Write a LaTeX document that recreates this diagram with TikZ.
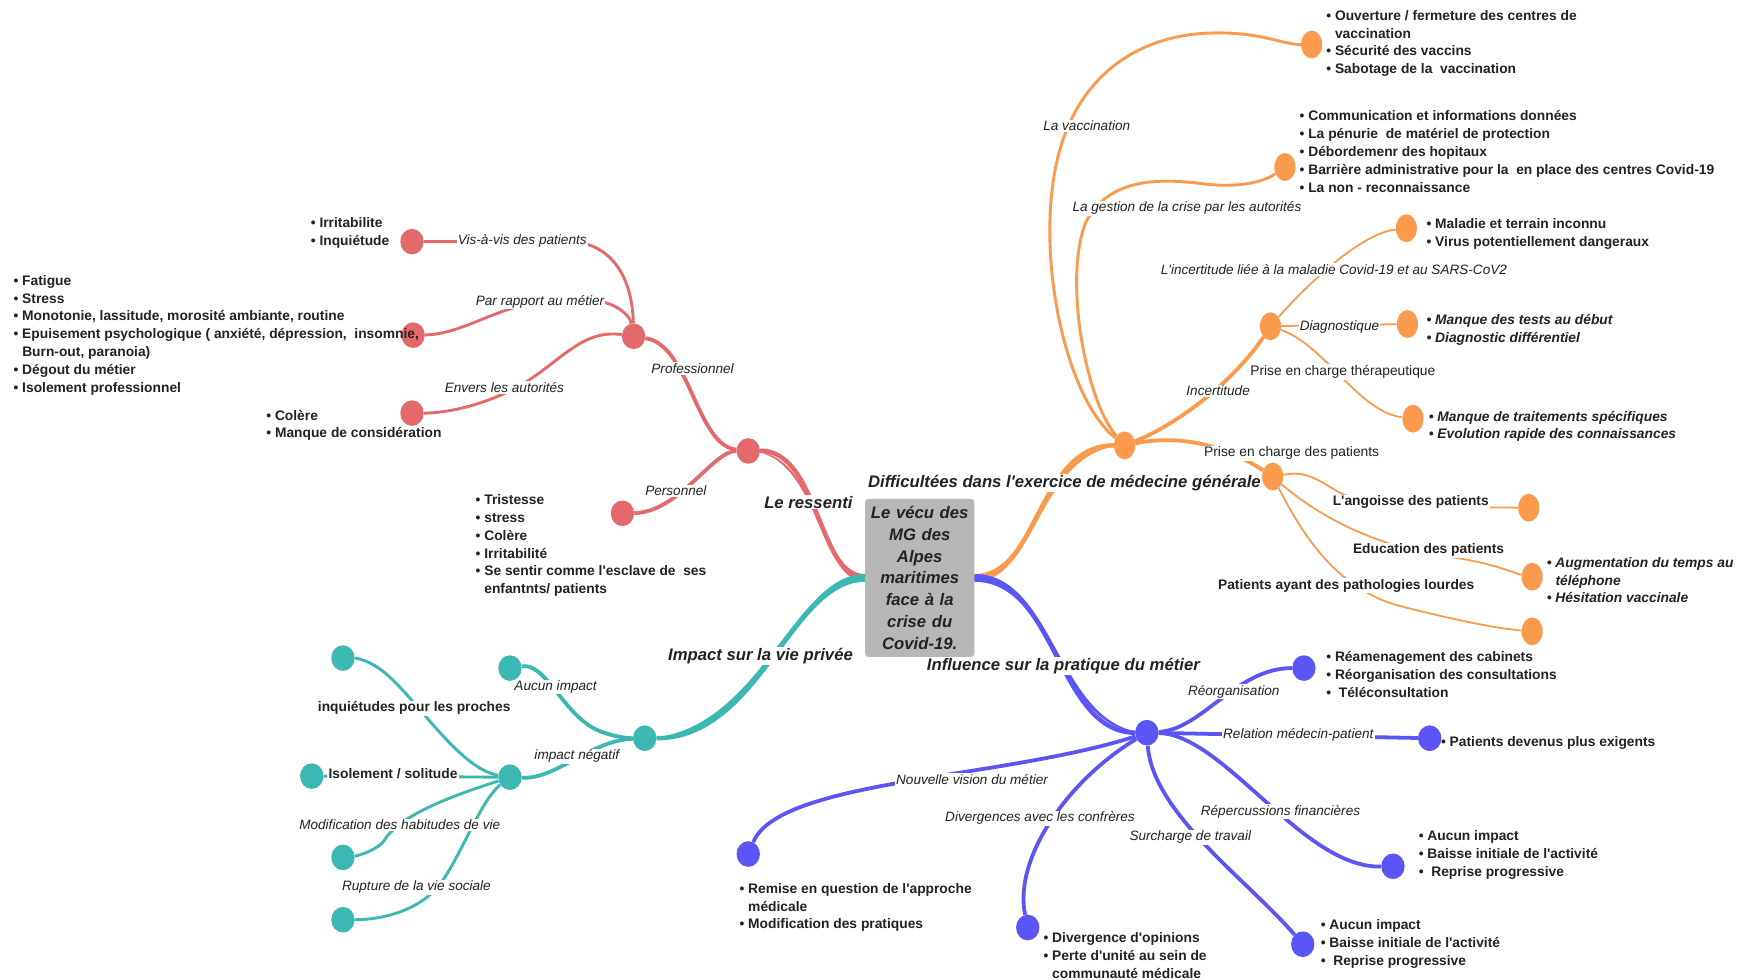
\documentclass[tikz,border=0pt]{standalone}
\usepackage{fontspec}
\setmainfont{Liberation Sans}[Ligatures=TeXOff]
\usetikzlibrary{shapes.geometric}
\definecolor{cred}{HTML}{E4696B}
\definecolor{corg}{HTML}{F99A4C}
\definecolor{cteal}{HTML}{3BB8B3}
\definecolor{cblue}{HTML}{5B55F5}
\definecolor{cbox}{HTML}{B7B7B7}
\definecolor{ctxt}{HTML}{222222}
\newcommand{\cont}{\hphantom{• }}
\begin{document}
\begin{tikzpicture}[x=1pt,y=-1pt,
 dot/.style={ellipse, minimum width=21pt, minimum height=23pt, inner sep=0pt, fill=#1},
 odot/.style={ellipse, minimum width=19pt, minimum height=25pt, inner sep=0pt, fill=corg},
 box/.style={rounded corners=3pt, fill=cbox, minimum width=98pt, minimum height=142pt, text width=94pt, align=center, inner sep=0pt, text=ctxt, font=\fontsize{15}{19.5}\selectfont\bfseries\itshape},
 lst/.style={align=left, anchor=west, inner sep=0pt, text=ctxt, font=\fontsize{12.4}{16}\selectfont\bfseries},
 ilst/.style={align=left, anchor=west, inner sep=0pt, text=ctxt, font=\fontsize{12.4}{16}\selectfont\bfseries\itshape},
 lbl/.style={fill=white, inner sep=1pt, text=ctxt, font=\fontsize{12.2}{14}\selectfont\itshape},
 rlbl/.style={fill=white, inner sep=1pt, text=ctxt, font=\fontsize{12.4}{14}\selectfont},
 ulbl/.style={fill=white, inner sep=1pt, text=ctxt, font=\fontsize{12.4}{14}\selectfont\bfseries},
 mlbl/.style={fill=white, inner sep=1pt, text=ctxt, font=\fontsize{15}{17}\selectfont\bfseries\itshape},
 sub/.style={line width=3.4pt},
 leaf/.style={line width=2.6pt},
 fine/.style={line width=1.6pt},
]
\useasboundingbox (0,0) rectangle (1560,880);
\fill[white] (0,0) rectangle (1560,880);

% centre
\node[box] (ctr) at (826,519) {Le vécu des\\MG des\\Alpes\\maritimes\\face à la\\crise du\\Covid-19.};

% dots red
\node[dot=cred] (R) at (672,405) {};
\node[dot=cred] (Rp) at (569,302) {};
\node[dot=cred] (Rpe) at (559,461) {};
\node[dot=cred] (Rv) at (370,217) {};
\node[dot=cred] (Rm) at (371,301) {};
\node[dot=cred] (Ra) at (370,371) {};
% dots teal
\node[dot=cteal] (T) at (579,663) {};
\node[dot=cteal] (Ta) at (458,600) {};
\node[dot=cteal] (Tn) at (458,698) {};
\node[dot=cteal] (Ti) at (308,591) {};
\node[dot=cteal] (Ts) at (280,697) {};
\node[dot=cteal] (Th) at (308,770) {};
\node[dot=cteal] (Tr) at (308,826) {};
% dots orange
\node[odot] (O) at (1010,400) {};
\node[odot] (Ov) at (1178,40) {};
\node[odot] (Og) at (1154,150) {};
\node[odot] (Oi) at (1141,293) {};
\node[odot] (Om) at (1263,205) {};
\node[odot] (Od) at (1264,291) {};
\node[odot] (Ot) at (1269,376) {};
\node[odot] (Op) at (1143,428) {};
\node[odot] (Oa) at (1373,456) {};
\node[odot] (Oe) at (1376,518) {};
\node[odot] (Ol) at (1376,567) {};
% dots blue
\node[dot=cblue] (B) at (1030,658) {};
\node[dot=cblue] (Br) at (1171,600) {};
\node[dot=cblue] (Bm) at (1284,663) {};
\node[dot=cblue] (Bf) at (1251,778) {};
\node[dot=cblue] (Bs) at (1170,848) {};
\node[dot=cblue] (Bd) at (923,833) {};
\node[dot=cblue] (Bn) at (672,767) {};

% main branches (tapered)
\fill[cred] ([yshift=3.5pt]ctr.west) .. controls (735,515.5) and (735,402) .. (R.center) .. controls (735,406) and (735,522.5) .. ([yshift=-3.5pt]ctr.west) -- cycle;
\draw[cred, line width=4pt] (ctr.west) .. controls (735,519) and (735,404) .. (R);
\fill[cteal] ([yshift=3.5pt]ctr.west) .. controls (712,515.5) and (682,660) .. (T.center) .. controls (682,666) and (712,522.5) .. ([yshift=-3.5pt]ctr.west) -- cycle;
\draw[cteal, line width=4pt] (ctr.west) .. controls (712,519) and (682,663) .. (T);
\fill[corg] ([yshift=3.5pt]ctr.east) .. controls (932,515.5) and (932,397) .. (O.center) .. controls (932,403) and (932,522.5) .. ([yshift=-3.5pt]ctr.east) -- cycle;
\draw[corg, line width=4pt] (ctr.east) .. controls (932,519) and (932,400) .. (O);
\fill[cblue] ([yshift=3.5pt]ctr.east) .. controls (948,515.5) and (950,655) .. (B.center) .. controls (950,661) and (948,522.5) .. ([yshift=-3.5pt]ctr.east) -- cycle;
\draw[cblue, line width=4pt] (ctr.east) .. controls (948,519) and (950,658) .. (B);

% red
\draw[cred, sub] (R) .. controls (625,400) and (620,310) .. (Rp);
\draw[cred, sub] (R) .. controls (640,405) and (610,460) .. (Rpe);
\draw[cred, leaf] (Rp) .. controls (568,250) and (550,220) .. (515,217) -- (Rv);
\draw[cred, leaf] (Rm) .. controls (420,300) and (450,270) .. (510,268) .. controls (545,266) and (565,280) .. (Rp);
\draw[cred, leaf] (Rp) .. controls (520,295) and (500,330) .. (460,350) .. controls (430,365) and (400,371) .. (Ra);
% teal
\draw[cteal, sub] (Ta) .. controls (490,595) and (505,640) .. (535,655) .. controls (550,662) and (565,663) .. (T);
\draw[cteal, sub] (Tn) .. controls (500,700) and (530,665) .. (T);
\draw[cteal, leaf] (Tn) .. controls (410,690) and (370,620) .. (340,600) .. controls (330,593) and (320,591) .. (Ti);
\draw[cteal, leaf] (Tn) -- (Ts);
\draw[cteal, leaf] (Tn) .. controls (415,712) and (360,730) .. (345,755) .. controls (340,762) and (325,768) .. (Th);
\draw[cteal, leaf] (Tn) .. controls (430,720) and (410,780) .. (390,800) .. controls (370,820) and (340,826) .. (Tr);
% orange
\draw[corg, leaf] (O) .. controls (960,360) and (935,250) .. (945,170) .. controls (955,80) and (1010,35) .. (1080,30) .. controls (1130,27) and (1150,40) .. (Ov);
\draw[corg, leaf] (O) .. controls (975,360) and (955,250) .. (975,200) .. controls (995,160) and (1040,160) .. (1080,165) .. controls (1120,170) and (1140,160) .. (Og);
\draw[corg, sub] (O) .. controls (1060,380) and (1110,340) .. (Oi);
\draw[corg, sub] (O) .. controls (1060,390) and (1100,400) .. (Op);
\draw[corg, fine] (Oi) .. controls (1170,260) and (1220,210) .. (Om);
\draw[corg, fine] (Oi) -- (Od);
\draw[corg, fine] (Oi) .. controls (1190,310) and (1220,370) .. (Ot);
\draw[corg, fine] (Op) .. controls (1190,420) and (1190,450) .. (1250,455) -- (Oa);
\draw[corg, fine] (Op) .. controls (1180,460) and (1230,490) .. (1300,500) .. controls (1340,505) and (1360,515) .. (Oe);
\draw[corg, fine] (Op) .. controls (1170,480) and (1200,530) .. (1260,545) .. controls (1320,560) and (1350,565) .. (Ol);
% blue
\draw[cblue, sub] (B) .. controls (1080,655) and (1110,600) .. (Br);
\draw[cblue, sub] (B) -- (Bm);
\draw[cblue, sub] (B) .. controls (1100,660) and (1170,780) .. (Bf);
\draw[cblue, sub] (B) .. controls (1035,730) and (1120,790) .. (Bs);
\draw[cblue, sub] (B) .. controls (960,700) and (910,770) .. (Bd);
\draw[cblue, sub] (B) .. controls (900,700) and (700,700) .. (Bn);

% labels
\node[mlbl] (lRes) at (726,451) {Le ressenti};
\node[mlbl] (lImp) at (683,589) {Impact sur la vie privée};
\node[mlbl] (lDif) at (956,434) {Difficultées dans l'exercice de médecine générale};
\node[mlbl] (lInf) at (955,598) {Influence sur la pratique du métier};

\node[lbl] (lVis) at (469,216) {Vis-à-vis des patients};
\node[lbl] (lPar) at (485,271) {Par rapport au métier};
\node[lbl] (lEnv) at (453,348) {Envers les autorités};
\node[lbl] (lPro) at (622,331) {Professionnel};
\node[lbl] (lPer) at (607,441) {Personnel};

\node[lbl] (lAuc) at (499,617) {Aucun impact};
\node[lbl] (lNeg) at (518,679) {impact négatif};
\node[ulbl] (lInq) at (372,636) {inquiétudes pour les proches};
\node[ulbl] (lIso) at (353,695) {Isolement / solitude};
\node[lbl] (lMod) at (359,741) {Modification des habitudes de vie};
\node[lbl] (lRup) at (374,797) {Rupture de la vie sociale};

\node[lbl] (lVac) at (976,113) {La vaccination};
\node[lbl] (lGes) at (1066,187) {La gestion de la crise par les autorités};
\node[lbl] (lMal) at (1198,242) {L'incertitude liée à la maladie Covid-19 et au SARS-CoV2};
\node[lbl] (lDia) at (1203,294) {Diagnostique};
\node[rlbl] (lThe) at (1206,334) {Prise en charge thérapeutique};
\node[lbl] (lInc) at (1094,351) {Incertitude};
\node[rlbl] (lPri) at (1160,407) {Prise en charge des patients};
\node[ulbl] (lAng) at (1267,451) {L'angoisse des patients};
\node[ulbl] (lEdu) at (1283,494) {Education des patients};
\node[ulbl] (lPat) at (1209,526) {Patients ayant des pathologies lourdes};

\node[lbl] (lReo) at (1108,621) {Réorganisation};
\node[lbl] (lRel) at (1166,660) {Relation médecin-patient};
\node[lbl] (lRep) at (1150,729) {Répercussions financières};
\node[lbl] (lSur) at (1069,752) {Surcharge de travail};
\node[lbl] (lDiv) at (934,735) {Divergences avec les confrères};
\node[lbl] (lNou) at (873,700) {Nouvelle vision du métier};

% lists
\node[lst] (xR1) at (279,209) {• Irritabilite\\• Inquiétude};
\node[lst] (xR2) at (12,301) {• Fatigue\\• Stress\\• Monotonie, lassitude, morosité ambiante, routine\\• Epuisement psychologique ( anxiété, dépression,~ insomnie,\\\cont Burn-out, paranoia)\\• Dégout du métier\\• Isolement professionnel};
\node[lst] (xR3) at (239,382) {• Colère\\• Manque de considération};
\node[lst] (xR4) at (427,490) {• Tristesse\\• stress\\• Colère\\• Irritabilité\\• Se sentir comme l'esclave de~ ses\\\cont enfantnts/ patients};

\node[lst] (xO1) at (1191,39) {• Ouverture / fermeture des centres de\\\cont vaccination\\• Sécurité des vaccins\\• Sabotage de la~ vaccination};
\node[lst] (xO2) at (1167,136) {• Communication et informations données\\• La pénurie~ de matériel de protection\\• Débordemenr des hopitaux\\• Barrière administrative pour la~ en place des centres Covid-19\\• La non - reconnaissance};
\node[lst] (xO3) at (1281,210) {• Maladie et terrain inconnu\\• Virus potentiellement dangeraux};
\node[ilst] (xO4) at (1281,296) {• Manque des tests au début\\• Diagnostic différentiel};
\node[ilst] (xO5) at (1283,383) {• Manque de traitements spécifiques\\• Evolution rapide des connaissances};
\node[ilst] (xO6) at (1389,521) {• Augmentation du temps au\\\cont téléphone\\• Hésitation vaccinale};

\node[lst] (xB1) at (1191,606) {• Réamenagement des cabinets\\• Réorganisation des consultations\\•~ Téléconsultation};
\node[lst] (xB2) at (1294,667) {• Patients devenus plus exigents};
\node[lst] (xB3) at (1274,768) {• Aucun impact\\• Baisse initiale de l'activité\\•~ Reprise progressive};
\node[lst] (xB4) at (1186,848) {• Aucun impact\\• Baisse initiale de l'activité\\•~ Reprise progressive};
\node[lst] (xB5) at (937,858) {• Divergence d'opinions\\• Perte d'unité au sein de\\\cont communauté médicale};
\node[lst] (xB6) at (664,815) {• Remise en question de l'approche\\\cont médicale\\• Modification des pratiques};
\end{tikzpicture}
\end{document}
